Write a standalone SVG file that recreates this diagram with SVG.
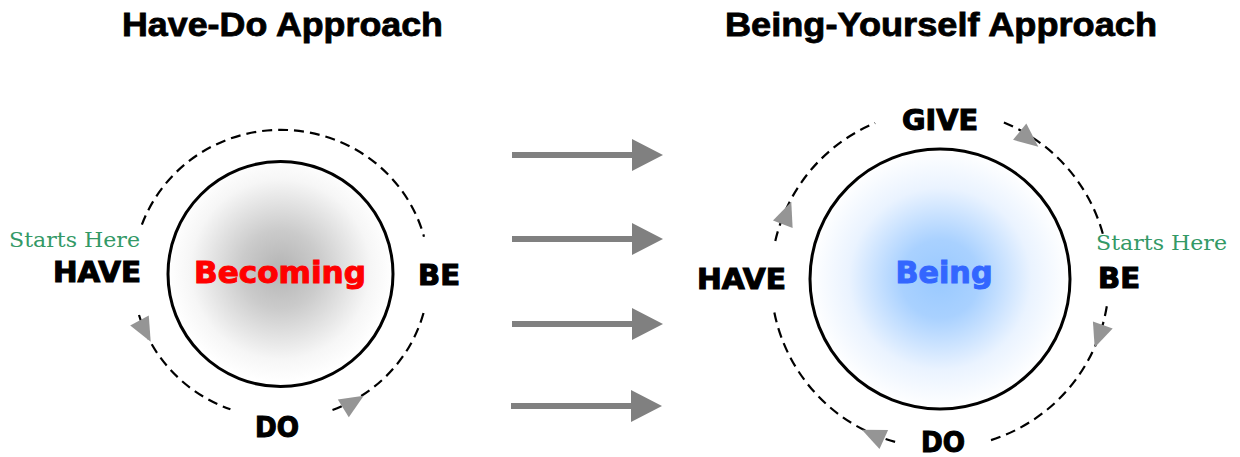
<svg xmlns="http://www.w3.org/2000/svg" xmlns:xlink="http://www.w3.org/1999/xlink" width="1240" height="457" viewBox="0 0 1240 457">
<defs>
<style>
.title{font-family:"Liberation Sans",Arial,sans-serif;font-weight:bold;font-size:33px;fill:#000;stroke:#000;stroke-width:0.8;text-anchor:middle}
.lbl{font-family:"DejaVu Sans","Liberation Sans",sans-serif;font-weight:bold;font-size:28px;fill:#000;stroke:#000;stroke-width:1.1}
.core{font-family:"DejaVu Sans","Liberation Sans",sans-serif;font-weight:bold;font-size:30px;text-anchor:middle;stroke-width:1}
.start{font-family:"DejaVu Serif","Liberation Serif",serif;font-size:21px;fill:#339966}
.inner{stroke:#000;stroke-width:3}
.dash{fill:none;stroke:#000;stroke-width:2.2;stroke-dasharray:10 6}
.head{fill:#959595}
.big{stroke:#808080;stroke-width:6}
</style>
<radialGradient id="gGray" cx="50%" cy="48%" r="50%">
<stop offset="0" stop-color="#b4b4b4"/>
<stop offset="0.35" stop-color="#cbcbcb"/>
<stop offset="0.8" stop-color="#f6f6f6"/>
<stop offset="1" stop-color="#ffffff"/>
</radialGradient>
<radialGradient id="gBlue" cx="50%" cy="50%" r="50%">
<stop offset="0" stop-color="#99c9ff"/>
<stop offset="0.3" stop-color="#a9d1ff"/>
<stop offset="0.7" stop-color="#eaf3ff"/>
<stop offset="1" stop-color="#ffffff"/>
</radialGradient>
<path id="tri" d="M0,-10.5 L24,0 L0,10.5 Z"/>
<marker id="bigHead" markerUnits="userSpaceOnUse" orient="auto" overflow="visible" refX="0" refY="0">
<path d="M0,-16 L31,0 L0,16 Z" fill="#808080"/>
</marker>
</defs>

<g id="titles">
<text class="title" x="282.5" y="36" textLength="321" lengthAdjust="spacingAndGlyphs">Have-Do Approach</text>
<text class="title" x="941" y="36" textLength="432" lengthAdjust="spacingAndGlyphs">Being-Yourself Approach</text>
</g>

<g id="becoming">
<circle class="inner" cx="280.5" cy="274" r="112.5" fill="url(#gGray)"/>
<text class="core" x="280" y="283" fill="#ff0000" stroke="#ff0000" textLength="172" lengthAdjust="spacingAndGlyphs">Becoming</text>
</g>

<g id="being">
<circle class="inner" cx="940" cy="279" r="130" fill="url(#gBlue)"/>
<text class="core" x="944" y="283" fill="#3366ff" stroke="#3366ff" textLength="97" lengthAdjust="spacingAndGlyphs">Being</text>
</g>

<g id="left-have"><text class="start" x="9" y="247" textLength="131" lengthAdjust="spacingAndGlyphs">Starts Here</text><text class="lbl" x="53" y="282" textLength="88" lengthAdjust="spacingAndGlyphs">HAVE</text></g>
<g id="left-be"><text class="lbl" x="418" y="285" textLength="42" lengthAdjust="spacingAndGlyphs">BE</text></g>
<g id="left-do"><text class="lbl" x="255" y="437" textLength="44" lengthAdjust="spacingAndGlyphs">DO</text></g>

<g id="right-give"><text class="lbl" x="902" y="130" textLength="76" lengthAdjust="spacingAndGlyphs">GIVE</text></g>
<g id="right-be"><text class="start" x="1096" y="250" textLength="131" lengthAdjust="spacingAndGlyphs">Starts Here</text><text class="lbl" x="1098" y="288" textLength="42" lengthAdjust="spacingAndGlyphs">BE</text></g>
<g id="right-do"><text class="lbl" x="921" y="452" textLength="44" lengthAdjust="spacingAndGlyphs">DO</text></g>
<g id="right-have"><text class="lbl" x="697" y="289" textLength="89" lengthAdjust="spacingAndGlyphs">HAVE</text></g>

<g id="connectors">
<!-- left cycle -->
<path class="dash" d="M141.9,224.7 A148,144 0 0 1 424,236.7"/>
<path class="dash" d="M332.5,410 A148,144 0 0 0 424,311.3"/>
<path class="dash" d="M139,315 A148,144 0 0 0 230.4,409.3"/>
<use href="#tri" class="head" transform="translate(139.5,320.5) rotate(62.2)"/>
<use href="#tri" class="head" transform="translate(343.3,408.4) rotate(-31.6)"/>
<!-- right cycle -->
<path class="dash" d="M775.3,241 A169,169 0 0 1 875.1,123"/>
<path class="dash" d="M1003.9,122.5 A169,169 0 0 1 1103.8,237.5"/>
<path class="dash" d="M1106.8,306.3 A169,169 0 0 1 987.7,441.1"/>
<path class="dash" d="M895.1,441.9 A169,169 0 0 1 773.3,306.9"/>
<use href="#tri" class="head" transform="translate(782.8,224.2) rotate(-69.3)"/>
<use href="#tri" class="head" transform="translate(1019.7,131.7) rotate(39.1)"/>
<use href="#tri" class="head" transform="translate(1102.8,325) rotate(109.8)"/>
<use href="#tri" class="head" transform="translate(883.8,439.5) rotate(-155.8)"/>
<!-- transition arrows -->
<line class="big" x1="512" y1="155" x2="632" y2="155" marker-end="url(#bigHead)"/>
<line class="big" x1="512" y1="239" x2="632" y2="239" marker-end="url(#bigHead)"/>
<line class="big" x1="512" y1="324" x2="632" y2="324" marker-end="url(#bigHead)"/>
<line class="big" x1="511" y1="406" x2="631" y2="406" marker-end="url(#bigHead)"/>
</g>
</svg>
